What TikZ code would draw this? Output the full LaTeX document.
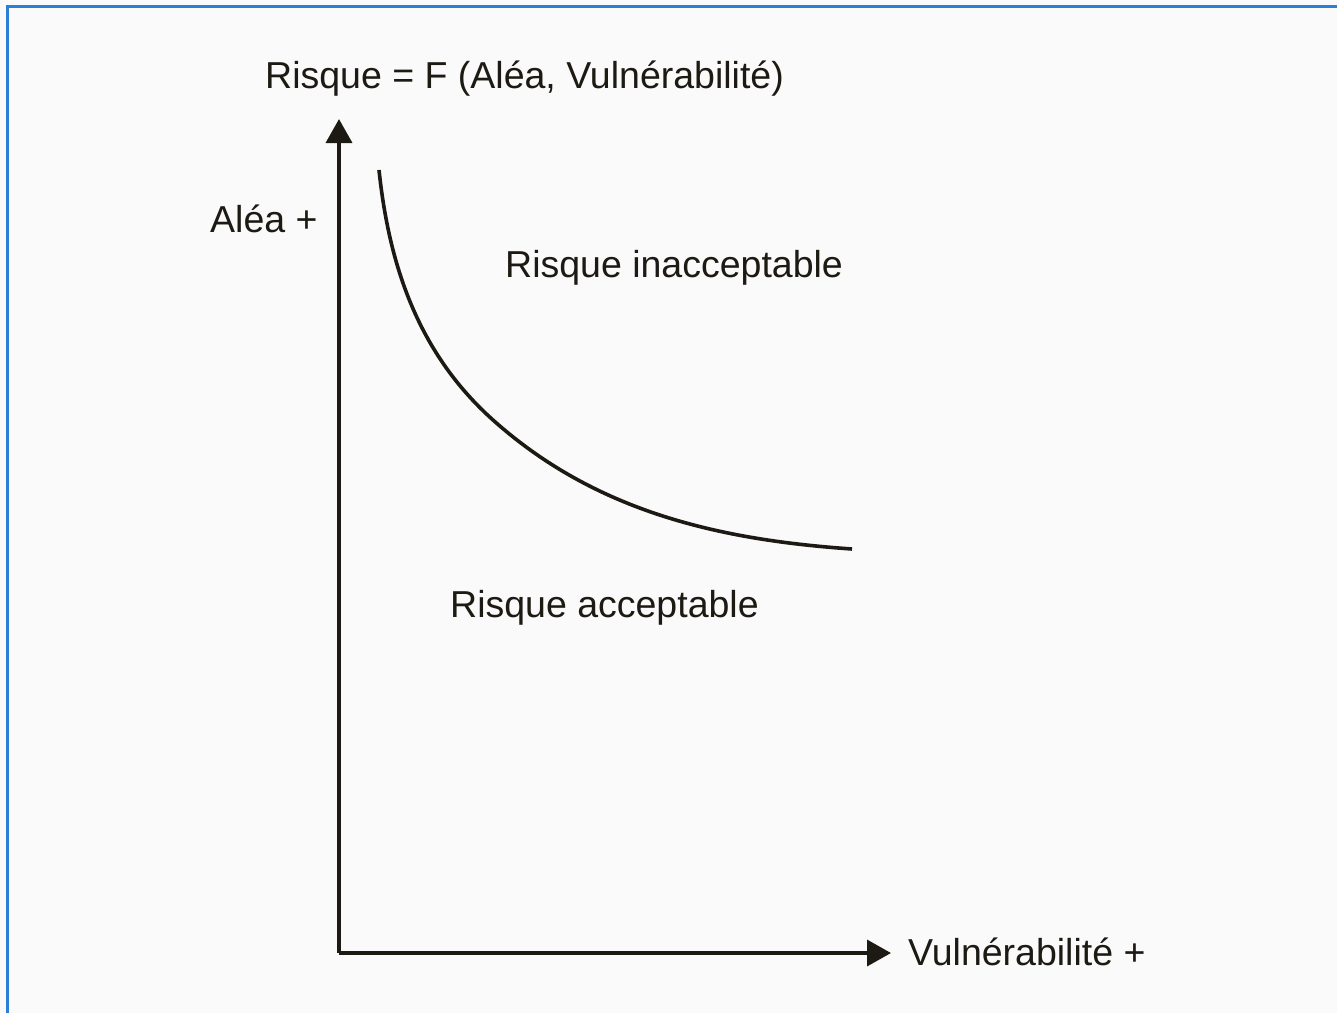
\documentclass[tikz,border=0pt]{standalone}
\usepackage{fontspec}
\setmainfont{Liberation Sans}
\usetikzlibrary{arrows.meta}
\definecolor{bgc}{HTML}{FAFAFA}
\definecolor{framec}{HTML}{2B7FD6}
\definecolor{inkc}{HTML}{1C1A12}
\begin{document}
\begin{tikzpicture}[x=1pt,y=-1pt,
  lbl/.style={anchor=base west,inner sep=0pt,text=inkc,font=\fontsize{37.5}{44}\selectfont},
  axis/.style={draw=inkc,line width=3.6pt,-{Triangle[length=24pt,width=26pt]}},
  curvestyle/.style={draw=inkc,line width=3.6pt}]
\useasboundingbox (0,0) rectangle (1337,1013);
\fill[bgc] (0,0) rectangle (1337,1013);
\draw[framec,line width=3pt] (7,1013) -- (7,6) -- (1337,6);
\coordinate (o) at (339,953);
\coordinate (ytip) at (339,119);
\coordinate (xtip) at (891,953);
\draw[axis] (o) -- (ytip);
\draw[axis] (o) -- (xtip);
\coordinate (c0) at (379,170);
\coordinate (cm) at (493,420);
\coordinate (c1) at (852,549);
\draw[curvestyle] (c0) .. controls (389,265) and (418,353) .. (cm)
  .. controls (597,513) and (722,540) .. (c1);
\node[lbl] (title) at (265,88) {Risque = F (Aléa, Vulnérabilité)};
\node[lbl] (alea) at (210,232) {Aléa +};
\node[lbl] (inacc) at (505,277) {Risque inacceptable};
\node[lbl] (acc) at (450,617) {Risque acceptable};
\node[lbl] (vuln) at (908,965) {Vulnérabilité +};
\end{tikzpicture}
\end{document}
